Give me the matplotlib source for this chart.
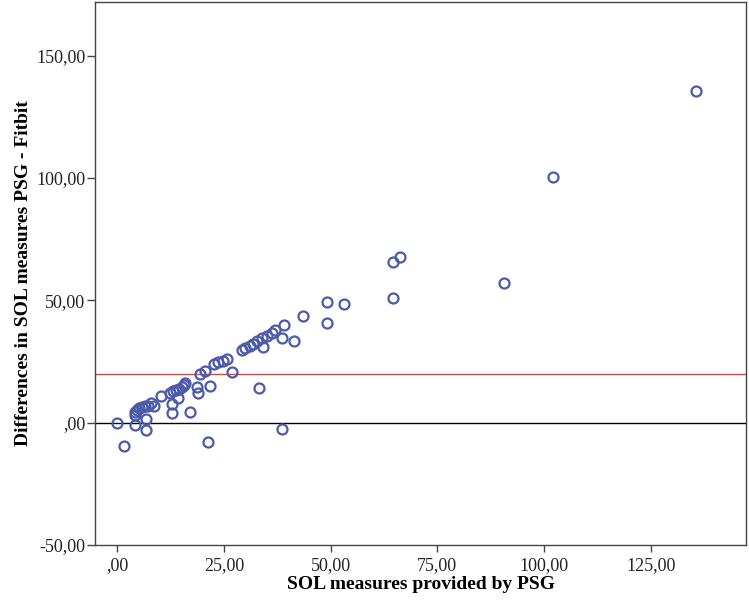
import matplotlib
matplotlib.use("Agg")
import matplotlib.pyplot as plt

psg_sol = [0.0, 1.7, 4.1, 6.7, 6.7, 4.1, 4.1, 4.6, 5.2, 5.8, 6.5, 7.3, 8.0, 8.7,
           10.2, 12.3, 13.0, 13.8, 14.5, 15.2, 15.6, 16.0, 12.8, 12.8, 14.2, 17.1,
           18.7, 18.9, 21.8, 19.4, 20.6, 21.2, 22.7, 23.7, 24.7, 25.7, 26.9,
           29.2, 30.0, 31.0, 31.8, 32.7, 33.9, 35.1, 36.2, 37.0, 34.1, 33.3,
           38.6, 39.1, 38.6, 41.3, 43.6, 49.1, 49.1, 53.2, 64.7, 66.3, 64.7,
           90.6, 102.0, 135.5]
diff_sol = [0.0, -9.5, -0.8, -3.1, 1.6, 3.3, 4.4, 5.2, 5.9, 6.3, 6.8, 7.0, 8.1, 7.0,
            11.0, 12.2, 12.8, 13.3, 13.8, 14.6, 15.2, 16.0, 7.5, 4.1, 10.0, 4.4,
            14.5, 12.3, 14.8, 20.0, 21.0, -7.9, 23.9, 24.7, 25.3, 26.0, 20.9,
            29.8, 30.5, 31.2, 32.2, 33.3, 34.6, 35.5, 36.7, 37.8, 30.8, 14.1,
            34.5, 39.9, -2.4, 33.5, 43.7, 49.4, 40.7, 48.3, 65.5, 67.5, 50.8,
            56.9, 100.5, 135.6]
ref_line = 20.0
zero_line = 0.0
x_ticks = [0, 25, 50, 75, 100, 125]
x_tick_labels = [",00", "25,00", "50,00", "75,00", "100,00", "125,00"]
y_ticks = [-50, 0, 50, 100, 150]
y_tick_labels = ["-50,00", ",00", "50,00", "100,00", "150,00"]

fig = plt.figure(figsize=(7.49, 6.0), dpi=100)
ax = fig.add_axes([95/749, 1 - 545/600, (746 - 95)/749, (545 - 2)/600])

ax.axhline(ref_line, color="#c0504d", lw=1.0, zorder=1)
ax.axhline(zero_line, color="black", lw=1.0, zorder=1)
ax.plot(psg_sol, diff_sol, linestyle="none", marker="o", markersize=7.2,
        markerfacecolor="none", markeredgecolor="#4b5aa9", markeredgewidth=1.6,
        zorder=3)

ax.set_xlim(-5.2, 147.3)
ax.set_ylim(-50, 171.9)
ax.set_xticks(x_ticks)
ax.set_xticklabels(x_tick_labels)
ax.set_yticks(y_ticks)
ax.set_yticklabels(y_tick_labels)

serif = ["Liberation Serif", "DejaVu Serif"]
for lab in ax.get_xticklabels() + ax.get_yticklabels():
    lab.set_family(serif)
    lab.set_fontsize(13)
    lab.set_color("#222222")
ax.tick_params(axis="x", direction="out", length=5, width=1, color="#444444", pad=4)
ax.tick_params(axis="y", direction="out", length=6, width=1, color="#444444", pad=1)
for s in ax.spines.values():
    s.set_color("#444444")
    s.set_linewidth(1.0)

ax.set_xlabel("SOL measures provided by PSG", family=serif, fontweight="bold",
              fontsize=14, labelpad=1)
ax.set_ylabel("Differences in SOL measures PSG - Fitbit", family=serif,
              fontweight="bold", fontsize=14, labelpad=3)

fig.savefig("out.png", dpi=100)
